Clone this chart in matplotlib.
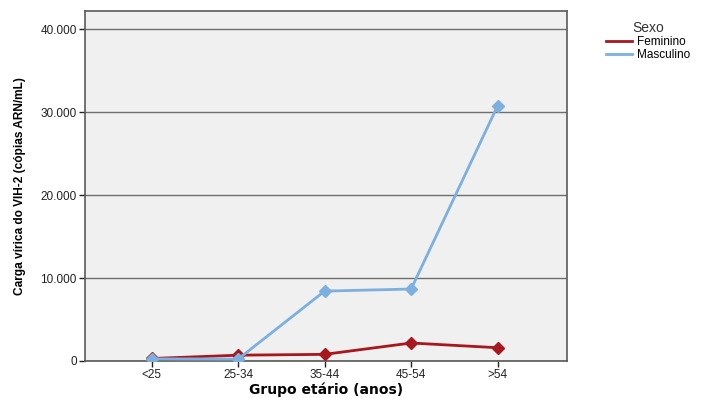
import matplotlib
matplotlib.use("Agg")
import matplotlib.pyplot as plt
from matplotlib.ticker import FuncFormatter

# data
grupos = ["<25", "25-34", "35-44", "45-54", ">54"]
feminino = [300, 700, 800, 2170, 1600]
masculino = [260, 230, 8430, 8680, 30780]

plt.rcParams["font.family"] = ["Liberation Sans", "DejaVu Sans"]

fig = plt.figure(figsize=(7.05, 3.98), dpi=100)
ax = fig.add_axes([0.1206, 0.093, 0.6834, 0.879])
ax.set_facecolor("#F0F0F0")

x = range(len(grupos))
ax.plot(x, feminino, color="#A8161E", lw=2, marker="D", ms=6, label="Feminino", zorder=3)
ax.plot(x, masculino, color="#7DB0DE", lw=2, marker="D", ms=6, label="Masculino", zorder=3)

ax.set_xlim(-0.77, 4.8)
ax.set_ylim(0, 42200)
ax.set_yticks([0, 10000, 20000, 30000, 40000])
ax.yaxis.set_major_formatter(FuncFormatter(lambda v, p: f"{int(v):,}".replace(",", ".")))
ax.set_xticks(list(x))
ax.set_xticklabels(grupos)
ax.grid(axis="y", color="#6E6E6E", lw=1)
ax.set_axisbelow(True)
for s in ax.spines.values():
    s.set_color("#5A5A5A")
    s.set_linewidth(1.2)
ax.tick_params(labelsize=8.5, colors="#222222", length=4, width=1, pad=2)

ax.set_xlabel("Grupo etário (anos)", fontsize=10, fontweight="bold",
              family=["DejaVu Sans"], labelpad=1)
ax.set_ylabel("Carga vírica do VIH-2 (cópias ARN/mL)", fontsize=8.6, fontweight="bold",
              labelpad=10)

leg = fig.legend(loc="upper left", bbox_to_anchor=(0.845, 0.975), frameon=False,
                 title="Sexo", fontsize=8.5, title_fontsize=10,
                 handlelength=2.2, handletextpad=0.4, labelspacing=0.1)
for h in leg.legend_handles:
    h.set_marker("")
leg.get_title().set_color("#333333")

fig.savefig("out.png", dpi=100)
